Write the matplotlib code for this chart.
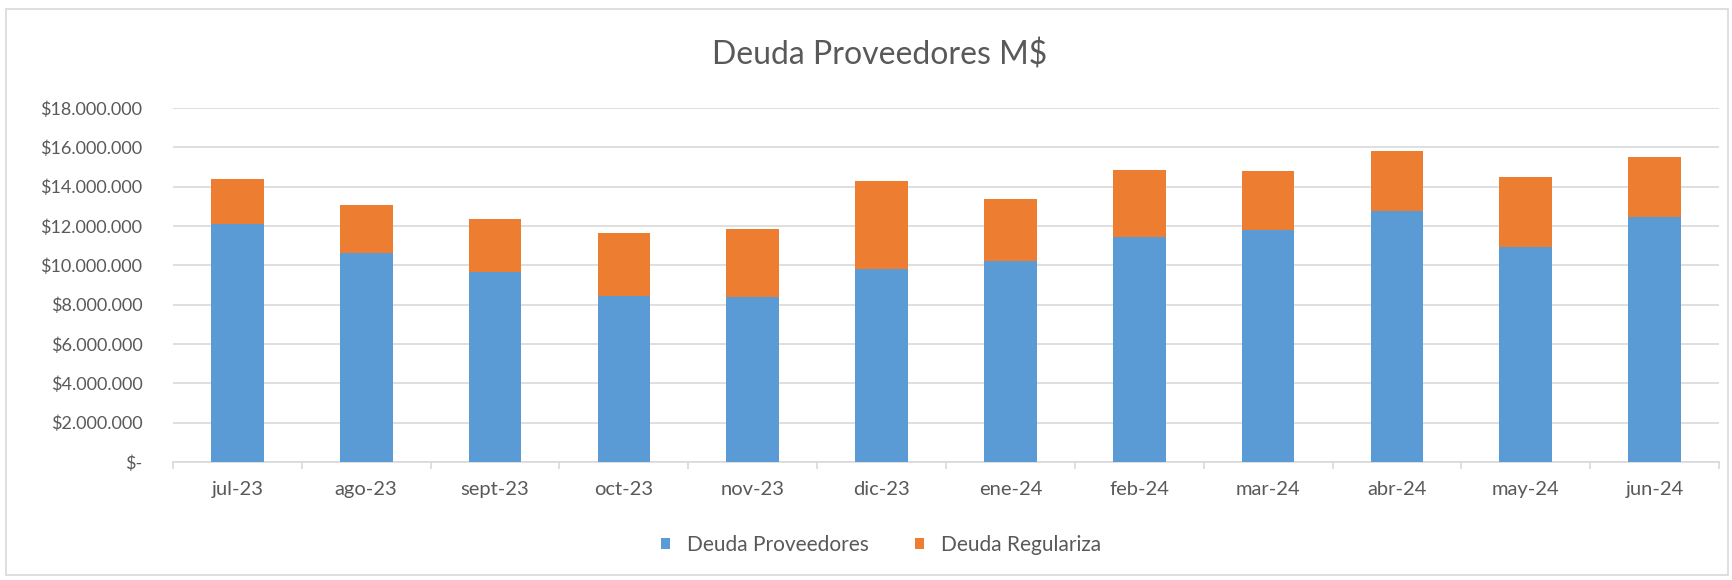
import matplotlib
matplotlib.use('Agg')
import matplotlib.pyplot as plt
from matplotlib.patches import Rectangle
from matplotlib.ticker import FuncFormatter, FixedLocator
import numpy as np

# Datos (pesos)
meses = ['jul-23', 'ago-23', 'sept-23', 'oct-23', 'nov-23', 'dic-23',
         'ene-24', 'feb-24', 'mar-24', 'abr-24', 'may-24', 'jun-24']
deuda_proveedores = [12100000, 10620000, 9660000, 8450000, 8380000, 9790000,
                     10220000, 11440000, 11810000, 12780000, 10910000, 12460000]
deuda_total = [14390000, 13050000, 12340000, 11620000, 11830000, 14270000,
               13350000, 14830000, 14810000, 15810000, 14490000, 15490000]
deuda_regulariza = [t - p for t, p in zip(deuda_total, deuda_proveedores)]

AZUL = '#5B9BD5'
NARANJA = '#ED7D31'
GRIS_TXT = '#595959'
GRIS_LINEA = '#D9D9D9'

plt.rcParams['font.family'] = ['Lato', 'DejaVu Sans']

fig = plt.figure(figsize=(17.33, 5.80), dpi=100)
ax = fig.add_axes([173 / 1733, 1 - 462 / 580, (1719 - 173) / 1733, (462 - 108) / 580])

x = np.arange(len(meses))
ax.bar(x, deuda_proveedores, width=0.41, color=AZUL, label='Deuda Proveedores', zorder=3)
ax.bar(x, deuda_regulariza, width=0.41, bottom=deuda_proveedores, color=NARANJA,
       label='Deuda Regulariza', zorder=3)

ax.set_xlim(-0.5, len(meses) - 0.5)
ax.set_ylim(0, 18000000)
ax.set_yticks(np.arange(0, 18000001, 2000000))


def formato_pesos(v, pos):
    if v == 0:
        return '$-'
    return '$' + f'{int(v):,}'.replace(',', '.')


ax.yaxis.set_major_formatter(FuncFormatter(formato_pesos))
ax.set_xticks(x)
ax.set_xticklabels(meses)
ax.xaxis.set_minor_locator(FixedLocator(np.arange(-0.5, len(meses), 1.0)))

ax.grid(axis='y', color=GRIS_LINEA, linewidth=1.2, zorder=0)
for lado in ['top', 'right', 'left']:
    ax.spines[lado].set_visible(False)
ax.spines['bottom'].set_color(GRIS_LINEA)
ax.spines['bottom'].set_linewidth(1.2)

ax.tick_params(axis='y', length=0, pad=22, labelsize=13, labelcolor=GRIS_TXT)
ax.tick_params(axis='x', which='major', length=0, pad=14, labelsize=14.5, labelcolor=GRIS_TXT)
ax.tick_params(axis='x', which='minor', length=5, width=1.2, color=GRIS_LINEA)

fig.text(880 / 1733, 1 - 55 / 580, 'Deuda Proveedores M$', ha='center', va='center',
         fontsize=23, color=GRIS_TXT)

fig.legend(loc='center', bbox_to_anchor=(881 / 1733, 1 - 545 / 580), ncol=2, frameon=False,
           fontsize=15, labelcolor=GRIS_TXT, handlelength=0.45, handleheight=0.45,
           handletextpad=0.8, columnspacing=2.2)

fig.patches.append(Rectangle((6 / 1733, 5 / 580), 1722 / 1733, 566 / 580,
                             transform=fig.transFigure, fill=False,
                             edgecolor=GRIS_LINEA, linewidth=1.2))

fig.savefig('out.png', dpi=100)
